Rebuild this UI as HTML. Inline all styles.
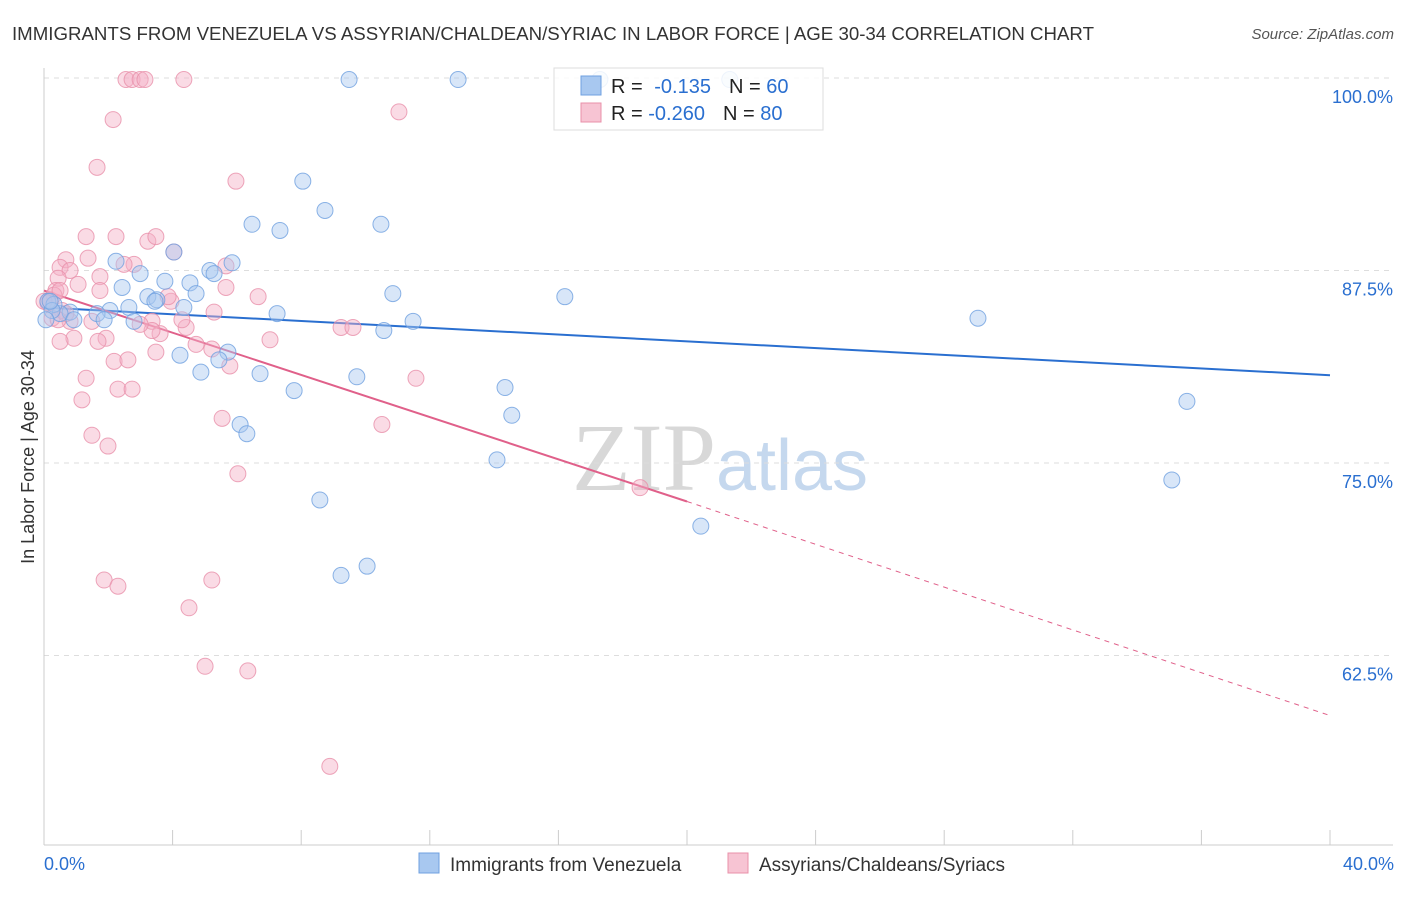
<!DOCTYPE html>
<html><head><meta charset="utf-8"><style>
body{margin:0;background:#fff;font-family:"Liberation Sans",sans-serif;}
</style></head><body>
<svg id="chart" width="1406" height="892" xmlns="http://www.w3.org/2000/svg" font-family="Liberation Sans, sans-serif">
<text x="12" y="40" font-size="18" fill="#333" textLength="1082" lengthAdjust="spacingAndGlyphs">IMMIGRANTS FROM VENEZUELA VS ASSYRIAN/CHALDEAN/SYRIAC IN LABOR FORCE | AGE 30-34 CORRELATION CHART</text>
<text x="1394" y="39" font-size="15" fill="#555" font-style="italic" text-anchor="end">Source: ZipAtlas.com</text>
<text x="720" y="490" font-size="96" text-anchor="middle"><tspan fill="#d8d8d8" font-family="Liberation Serif, serif">ZIP</tspan><tspan fill="#c5d8ee" font-size="72">atlas</tspan></text>
<g id="grid"></g>
<g id="axes"></g>
<g id="trend"></g>
<g id="pts"></g>
<text transform="translate(34,457) rotate(-90)" font-size="18" fill="#333" text-anchor="middle">In Labor Force | Age 30-34</text>
<g>
<rect x="554" y="68" width="269" height="62" fill="#fff" fill-opacity="0.85" stroke="#ddd"/>
<rect x="581" y="76" width="20" height="19" fill="#a8c8f0" stroke="#6fa0e0"/>
<rect x="581" y="103" width="20" height="19" fill="#f7c4d3" stroke="#e890aa"/>
<text x="611" y="93" font-size="20" fill="#222">R = <tspan fill="#2a6fd0" dx="6">-0.135</tspan><tspan dx="18" fill="#222">N = </tspan><tspan fill="#2a6fd0">60</tspan></text>
<text x="611" y="120" font-size="20" fill="#222">R = <tspan fill="#2a6fd0">-0.260</tspan><tspan dx="18" fill="#222">N = </tspan><tspan fill="#2a6fd0">80</tspan></text>
</g>
<g>
<rect x="419" y="853" width="20" height="20" fill="#a8c8f0" stroke="#6fa0e0"/>
<text x="450" y="871" font-size="19" fill="#333">Immigrants from Venezuela</text>
<rect x="728" y="853" width="20" height="20" fill="#f7c4d3" stroke="#e890aa"/>
<text x="759" y="871" font-size="19" fill="#333">Assyrians/Chaldeans/Syriacs</text>
</g>
</svg>
<script>
const blueX=[9.49,12.88,17.29,21.33,8.05,6.47,7.34,8.74,10.48,4.04,2.24,2.99,5.85,5.16,5.29,3.76,4.54,2.43,3.23,3.51,4.73,3.45,2.64,4.35,2.05,1.65,0.81,0.50,0.12,0.31,0.25,0.93,1.87,2.80,7.25,10.85,11.48,10.57,16.2,29.05,4.23,5.72,5.44,4.88,6.72,9.73,7.78,14.34,14.55,6.1,6.31,14.09,35.55,35.08,8.58,20.43,9.24,10.05,0.06,0.19];
const blueY=[99.9,99.9,99.9,99.9,93.3,90.5,90.1,91.4,90.5,88.7,88.1,87.3,88.0,87.5,87.3,86.8,86.7,86.4,85.8,85.6,86.0,85.5,85.1,85.1,84.9,84.7,84.8,84.7,85.5,85.3,84.9,84.3,84.3,84.2,84.7,86.0,84.2,83.6,85.8,84.4,82.0,82.2,81.7,80.9,80.8,80.6,79.7,79.9,78.1,77.5,76.9,75.2,79.0,73.9,72.6,70.9,67.7,68.3,84.3,85.5];
const pinkX=[2.55,2.74,2.99,3.14,4.35,2.15,11.04,1.65,5.97,1.31,2.24,3.23,3.48,4.04,0.68,0.50,0.81,0.44,1.37,1.74,2.80,2.49,5.66,1.06,0.37,0.19,0.31,6.66,3.95,5.66,5.29,0.56,0.81,0.93,1.49,1.93,1.68,3.36,3.61,4.42,3.36,4.73,5.22,5.78,2.18,2.61,7.03,9.24,9.61,1.31,2.30,2.74,11.57,1.18,5.54,1.49,1.99,10.51,6.03,18.54,1.87,2.30,5.22,4.51,5.01,6.34,8.89,0.25,0.12,0.50,0.68,0,3.86,4.29,3.48,0.50,0.44,2.99,1.74];
const pinkY=[99.9,99.9,99.9,99.9,99.9,97.3,97.8,94.2,93.3,89.7,89.7,89.4,89.7,88.7,88.2,87.7,87.5,87.0,88.3,87.1,87.9,87.9,87.8,86.6,86.2,85.6,85.9,85.8,85.5,86.4,84.8,84.9,84.2,83.1,84.2,83.1,82.9,84.2,83.4,83.8,83.6,82.7,82.4,81.3,81.6,81.7,83.0,83.8,83.8,80.5,79.8,79.8,80.5,79.1,77.9,76.8,76.1,77.5,74.3,73.4,67.4,67.0,67.4,65.6,61.8,61.5,55.3,84.4,85.4,86.2,84.7,85.5,85.8,84.3,82.2,82.9,84.3,84.0,86.2];
const blueTrend=[85.1,80.7];
const pinkTrend=[86.2,72.5,58.6];
const yTicks=[100,87.5,75,62.5];
const yTickLabels=["100.0%","87.5%","75.0%","62.5%"];
const xTicks=[0,4,8,12,16,20,24,28,32,36,40];

const NS="http://www.w3.org/2000/svg";
const xs=v=>44+v*1286/40;
const ys=v=>78+(100-v)*15.4;
function mk(tag,attrs,parent){const e=document.createElementNS(NS,tag);for(const k in attrs)e.setAttribute(k,attrs[k]);document.getElementById(parent).appendChild(e);return e;}

yTicks.forEach((t,i)=>{
  const l=mk('line',{x1:44,x2:1393,y1:ys(t),y2:ys(t),stroke:'#ddd','stroke-dasharray':'5,5'},'grid');
  
  
  const tx=mk('text',{x:1393,y:ys(t)+25,'font-size':18,fill:'#2a6fd0','text-anchor':'end'},'grid');
  tx.textContent=yTickLabels[i];
  
  
});
const ya=mk('line',{x1:44,x2:44,y1:68,y2:845,stroke:'#ccc'},'axes');


const xa=mk('line',{x1:44,x2:1393,y1:845,y2:845,stroke:'#ccc'},'axes');


xTicks.forEach(t=>{
  const l=mk('line',{x1:xs(t),x2:xs(t),y1:830,y2:845,stroke:'#ccc'},'axes');
  
  
});
const xl0=mk('text',{x:44,y:870,'font-size':18,fill:'#2a6fd0'},'axes');xl0.textContent='0.0%';


const xl1=mk('text',{x:1394,y:870,'font-size':18,fill:'#2a6fd0','text-anchor':'end'},'axes');xl1.textContent='40.0%';



function dot(x,y,fill,stroke,name){
  const c=mk('circle',{cx:xs(x),cy:ys(y),r:8,fill:fill,'fill-opacity':0.45,stroke:stroke,'stroke-opacity':0.8,'stroke-width':1},'pts');
  
  
}
pinkX.forEach((x,i)=>dot(x,pinkY[i],'#f4b0c6','#e890aa','assyrian-point'));
blueX.forEach((x,i)=>dot(x,blueY[i],'#a8c8f0','#6fa0e0','venezuela-point'));

const bt=mk('line',{x1:xs(0),y1:ys(blueTrend[0]),x2:xs(40),y2:ys(blueTrend[1]),stroke:'#2a6fd0','stroke-width':2},'trend');


const pt=mk('line',{x1:xs(0),y1:ys(pinkTrend[0]),x2:xs(20),y2:ys(pinkTrend[1]),stroke:'#e0608a','stroke-width':2},'trend');


const pd=mk('line',{x1:xs(20),y1:ys(pinkTrend[1]),x2:xs(40),y2:ys(pinkTrend[2]),stroke:'#e0608a','stroke-width':1,'stroke-dasharray':'5,5'},'trend');


</script>
</body></html>
